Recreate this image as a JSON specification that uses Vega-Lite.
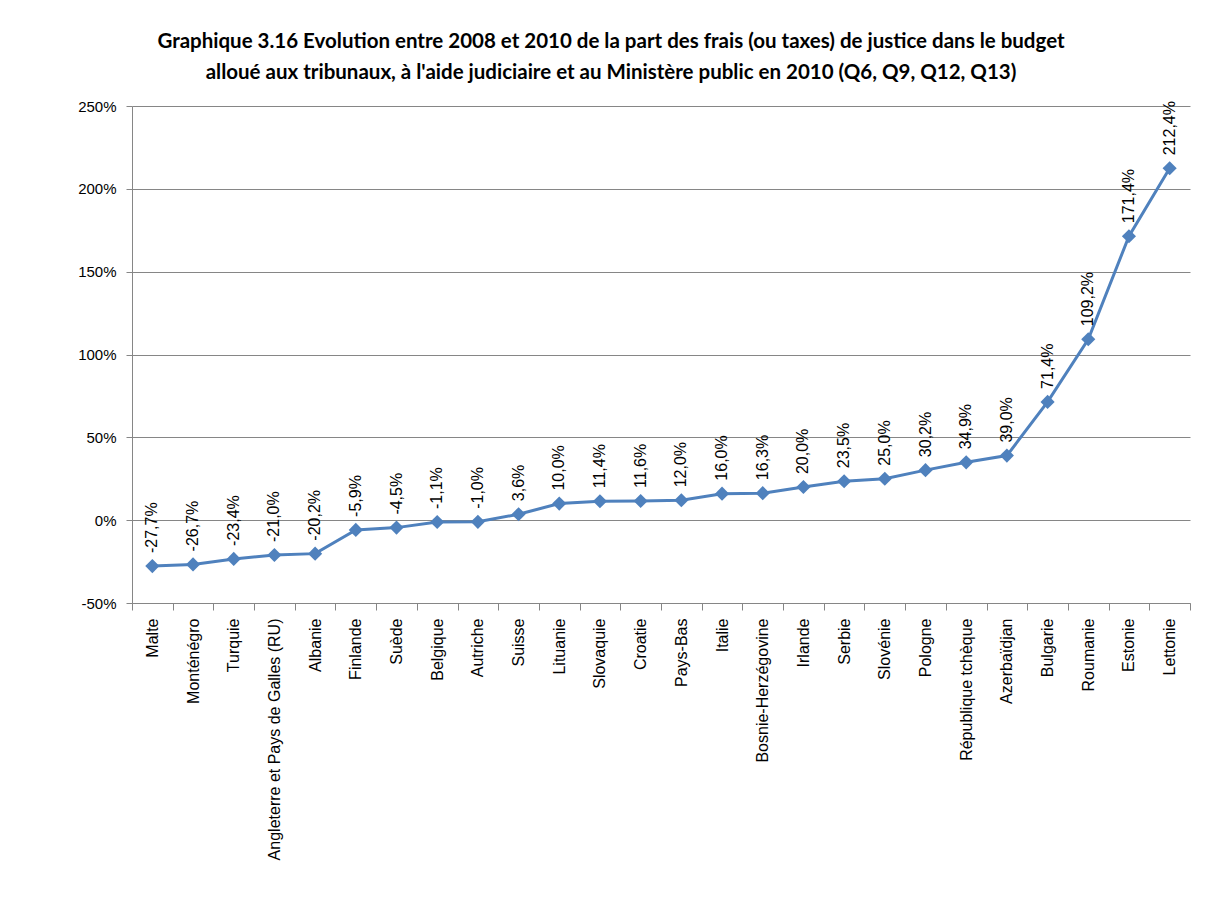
{
  "$schema": "https://vega.github.io/schema/vega-lite/v6.json",
  "width": 1058,
  "height": 497,
  "autosize": {"type": "none"},
  "padding": {"left": 132, "top": 106, "right": 15, "bottom": 307},
  "background": "white",
  "title": {
    "text": ["Graphique 3.16 Evolution entre 2008 et 2010 de la part des frais (ou taxes)  de justice dans le budget", "alloué aux tribunaux,  à l'aide judiciaire et au Ministère public en 2010 (Q6, Q9, Q12, Q13)"],
    "font": "Lato",
    "fontSize": 20.5,
    "fontWeight": "bold",
    "color": "#000000",
    "lineHeight": 31,
    "anchor": "middle",
    "dx": -50,
    "offset": 16
  },
  "config": {
    "locale": {"number": {"decimal": ",", "thousands": " ", "grouping": [3], "currency": ["", " €"], "minus": "-", "percent": "%"}},
    "view": {"stroke": null},
    "font": "Liberation Sans"
  },
  "data": {
    "values": [
      {"pays": "Malte", "v": -0.277},
      {"pays": "Monténégro", "v": -0.267},
      {"pays": "Turquie", "v": -0.234},
      {"pays": "Angleterre et Pays de Galles (RU)", "v": -0.210},
      {"pays": "Albanie", "v": -0.202},
      {"pays": "Finlande", "v": -0.059},
      {"pays": "Suède", "v": -0.045},
      {"pays": "Belgique", "v": -0.011},
      {"pays": "Autriche", "v": -0.010},
      {"pays": "Suisse", "v": 0.036},
      {"pays": "Lituanie", "v": 0.100},
      {"pays": "Slovaquie", "v": 0.114},
      {"pays": "Croatie", "v": 0.116},
      {"pays": "Pays-Bas", "v": 0.120},
      {"pays": "Italie", "v": 0.160},
      {"pays": "Bosnie-Herzégovine", "v": 0.163},
      {"pays": "Irlande", "v": 0.200},
      {"pays": "Serbie", "v": 0.235},
      {"pays": "Slovénie", "v": 0.250},
      {"pays": "Pologne", "v": 0.302},
      {"pays": "République tchèque", "v": 0.349},
      {"pays": "Azerbaïdjan", "v": 0.390},
      {"pays": "Bulgarie", "v": 0.714},
      {"pays": "Roumanie", "v": 1.092},
      {"pays": "Estonie", "v": 1.714},
      {"pays": "Lettonie", "v": 2.124}
    ]
  },
  "encoding": {
    "x": {
      "field": "pays",
      "type": "nominal",
      "sort": null,
      "bandPosition": 0.5,
      "scale": {"type": "band", "paddingInner": 0, "paddingOuter": 0},
      "axis": {
        "title": null,
        "labelAngle": -90,
        "labelAlign": "right",
        "labelBaseline": "middle",
        "labelFont": "Liberation Sans",
        "labelFontSize": 16,
        "labelColor": "#000000",
        "labelPadding": 8,
        "labelLimit": 400,
        "tickBand": "extent",
        "tickSize": 7,
        "tickColor": "#868686",
        "domainColor": "#868686",
        "grid": false,
        "labelOverlap": false
      }
    },
    "y": {
      "field": "v",
      "type": "quantitative",
      "scale": {"domain": [-0.5, 2.5], "nice": false, "zero": false},
      "axis": {
        "title": null,
        "values": [-0.5, 0, 0.5, 1, 1.5, 2, 2.5],
        "format": ".0%",
        "labelFont": "Liberation Sans",
        "labelFontSize": 15,
        "labelColor": "#000000",
        "labelPadding": 10,
        "tickSize": 6,
        "tickColor": "#868686",
        "domainColor": "#868686",
        "gridColor": "#868686",
        "gridWidth": 1
      }
    }
  },
  "layer": [
    {"mark": {"type": "line", "color": "#4F81BD", "strokeWidth": 3}},
    {"mark": {"type": "point", "shape": "diamond", "filled": true, "size": 200, "color": "#4F81BD", "opacity": 1}},
    {
      "mark": {"type": "text", "angle": -90, "align": "left", "baseline": "middle", "dx": 13, "font": "Liberation Sans", "fontSize": 16, "color": "#000000"},
      "encoding": {"text": {"field": "v", "type": "quantitative", "format": ".1%"}}
    }
  ]
}
